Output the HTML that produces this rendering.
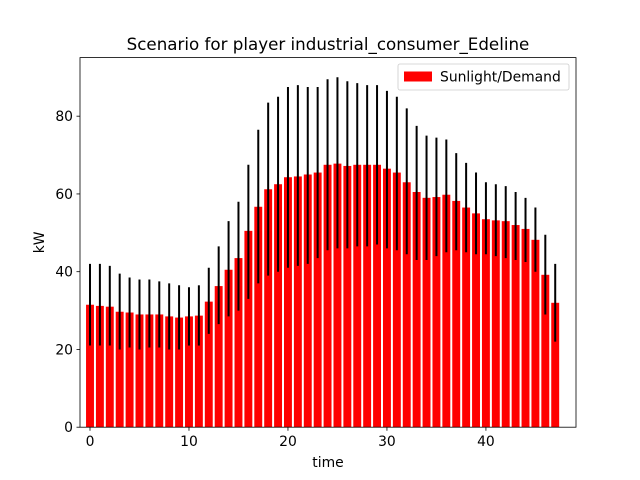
<!DOCTYPE html>
<html><head><meta charset="utf-8"><style>
body{margin:0;background:#fff;}
svg{display:block;font-family:"DejaVu Sans","Liberation Sans",sans-serif;}
</style></head><body>
<svg id="chart" width="640" height="480" viewBox="0 0 640 480"></svg>
<script>
const times = Array.from({length:48},(_,i)=>i);
const demand = [31.5,31.2,31,29.7,29.5,29,29,29,28.5,28.2,28.5,28.7,32.3,36.3,40.5,43.5,50.5,56.7,61.2,62.5,64.3,64.5,65,65.5,67.5,67.8,67.2,67.5,67.5,67.5,66.5,65.5,63,60.5,59,59.2,59.8,58.2,56.5,55,53.5,53.2,53,52,51,48.2,39.2,32];
const errTop = [42,42,41.5,39.5,38.5,38,38,37.5,37,36.5,36,36.5,41,46.5,53,58,67.5,76.5,83.5,85,87.5,88,87.5,87.5,89.5,90,89,88.5,88,88,86.5,85,82,77.5,75,74.5,74,70.5,68,65.5,63,62.5,62,60.5,59,56.5,49.5,42];
const errBottom = [21,21,21,20,20.5,20,20.5,20.5,20,20,21,21,24,26.5,28.5,30,33,37,39,40,41,41.5,42,43.5,45.5,46,46,46.5,46.5,47,46,45.5,44.5,43,43,44,45,45.5,45,44.5,44.5,44,43.5,43,42.5,40,29,22];
const xTicks = [0,10,20,30,40];
const yTicks = [0,20,40,60,80];

const NS="http://www.w3.org/2000/svg";
const svg=document.getElementById('chart');
const L=80,R=576,T=57.6,B=427.2;
const xMin=-1.01,xMax=49.1,yMin=0,yMax=95.07;
const xs=v=>L+(v-xMin)/(xMax-xMin)*(R-L);
const ys=v=>B-(v-yMin)/(yMax-yMin)*(B-T);
function mk(tag,attrs,parent){const e=document.createElementNS(NS,tag);for(const k in attrs)e.setAttribute(k,attrs[k]);(parent||svg).appendChild(e);return e;}

const bars=mk('g',{});


times.forEach((t,i)=>{
  const x0=xs(t-0.4),x1=xs(t+0.4);
  const r=mk('rect',{x:x0,y:ys(demand[i]),width:x1-x0,height:ys(0)-ys(demand[i]),fill:'#ff0000'},bars);
  
  
});
const errs=mk('g',{});


times.forEach((t,i)=>{
  const l=mk('line',{x1:xs(t),x2:xs(t),y1:ys(errTop[i]),y2:ys(errBottom[i]),stroke:'#000','stroke-width':2},errs);
  
  
});

const frame=mk('rect',{x:L,y:T,width:R-L,height:B-T,fill:'none',stroke:'#000','stroke-width':0.8});



xTicks.forEach(v=>{
  const x=xs(v);
  mk('line',{x1:x,x2:x,y1:B,y2:B+3.5,stroke:'#000','stroke-width':0.8});
  const tx=mk('text',{x:x,y:B+19,'text-anchor':'middle','font-size':13.9,fill:'#000'});
  tx.textContent=v;
  
  
});
yTicks.forEach(v=>{
  const y=ys(v);
  mk('line',{x1:L-3.5,x2:L,y1:y,y2:y,stroke:'#000','stroke-width':0.8});
  const tx=mk('text',{x:L-7,y:y+5,'text-anchor':'end','font-size':13.9,fill:'#000'});
  tx.textContent=v;
  
  
});

const xt=mk('text',{x:(L+R)/2,y:467,'text-anchor':'middle','font-size':13.9,fill:'#000'});
xt.textContent='time';


const yt=mk('text',{x:44,y:(T+B)/2,'text-anchor':'middle','font-size':13.9,fill:'#000',transform:'rotate(-90 44 '+((T+B)/2)+')'});
yt.textContent='kW';


const title=mk('text',{x:(L+R)/2,y:50,'text-anchor':'middle','font-size':16.7,fill:'#000'});
title.textContent='Scenario for player industrial_consumer_Edeline';



const lg=mk('g',{});


mk('rect',{x:398,y:64,width:171,height:26,rx:2,fill:'#fff','fill-opacity':0.8,stroke:'#ccc','stroke-width':0.8},lg);
const sw=mk('rect',{x:404,y:71.5,width:28,height:10,fill:'#ff0000'},lg);


const lt=mk('text',{x:440,y:81.5,'font-size':13.9,fill:'#000'},lg);
lt.textContent='Sunlight/Demand';


</script>
</body></html>
